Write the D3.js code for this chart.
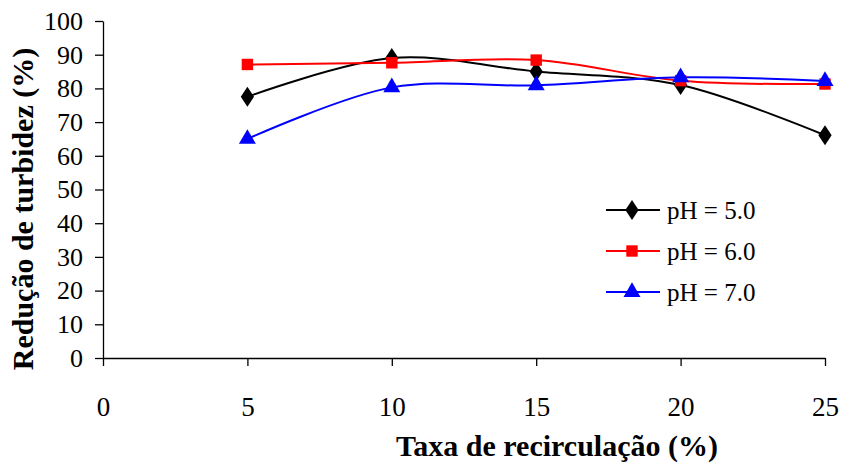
<!DOCTYPE html>
<html>
  <head>
    <meta charset="utf-8">
    <title>Redução de turbidez</title>
    <script src="https://d3js.org/d3.v7.min.js"></script>
    <style>
      body { margin: 0; background: #fff; }
      .domain, .tick line { stroke: #000; stroke-width: 1.3px; }
    </style>
  </head>
  <body>
    <svg id="chart" width="841" height="472"></svg>
    <script>
      // data
      taxa = [5, 10, 15, 20, 25];
      ph5 = [77.5, 89.0, 85.0, 81.0, 66.1];
      ph6 = [87.1, 87.6, 88.4, 82.3, 81.3];
      ph7 = [65.0, 80.3, 80.9, 83.3, 82.2];
      xTicks = [0, 5, 10, 15, 20, 25];
      yTicks = [0, 10, 20, 30, 40, 50, 60, 70, 80, 90, 100];

      font = "Liberation Serif";
      series = [
        { name: "pH = 5.0", values: ph5, colour: "#000000", symbol: d3.symbolDiamond, size: 115 },
        { name: "pH = 6.0", values: ph6, colour: "#ff0000", symbol: d3.symbolSquare, size: 130 },
        { name: "pH = 7.0", values: ph7, colour: "#0000ff", symbol: d3.symbolTriangle, size: 125 }
      ];

      svg = d3.select("#chart");
      margin = { top: 21, right: 16, bottom: 114, left: 103 };
      width = 841 - margin.left - margin.right;
      height = 472 - margin.top - margin.bottom;

      x = d3.scaleLinear().domain([0, 25]).range([margin.left, margin.left + width]);
      y = d3.scaleLinear().domain([0, 100]).range([margin.top + height, margin.top]);

      // axes
      svg.append("g")
        .attr("transform", "translate(0," + y(0) + ")")
        .call(d3.axisBottom(x).tickValues(xTicks).tickSize(8).tickSizeOuter(0).tickPadding(31))
        .attr("font-family", font)
        .attr("font-size", 27)
        .selectAll(".tick text").attr("fill", "#000");
      svg.append("g")
        .attr("transform", "translate(" + x(0) + ",0)")
        .call(d3.axisLeft(y).tickValues(yTicks).tickSize(8).tickSizeOuter(0).tickPadding(12))
        .attr("font-family", font)
        .attr("font-size", 26)
        .selectAll(".tick text").attr("fill", "#000");

      // lines and markers
      line = d3.line()
        .x(function(d, i) { return x(taxa[i]); })
        .y(function(d) { return y(d); })
        .curve(d3.curveCatmullRom.alpha(0.5));

      series.forEach(function(s) {
        svg.append("path")
          .datum(s.values)
          .attr("d", line)
          .attr("fill", "none")
          .attr("stroke", s.colour)
          .attr("stroke-width", 2);
      });
      series.forEach(function(s) {
        svg.selectAll(null)
          .data(s.values)
          .enter().append("path")
            .attr("d", d3.symbol().type(s.symbol).size(s.size))
            .attr("transform", function(d, i) {
              return "translate(" + x(taxa[i]) + "," + y(d) + ")" + (s.symbol === d3.symbolDiamond ? " scale(1.15,1)" : "");
            })
            .attr("fill", s.colour);
      });

      // legend
      legend = svg.append("g")
        .attr("font-family", font)
        .attr("font-size", 25);
      rows = legend.selectAll("g")
        .data(series)
        .enter().append("g")
          .attr("transform", function(d, i) { return "translate(606," + (210 + i * 41) + ")"; });
      rows.append("line")
        .attr("x1", 0).attr("x2", 54)
        .attr("stroke", function(d) { return d.colour; })
        .attr("stroke-width", 2);
      rows.append("path")
        .attr("d", function(d) { return d3.symbol().type(d.symbol).size(d.size)(); })
        .attr("transform", function(d) { return "translate(26,0)" + (d.symbol === d3.symbolDiamond ? " scale(1.15,1)" : ""); })
        .attr("fill", function(d) { return d.colour; });
      rows.append("text")
        .attr("x", 61)
        .attr("dy", "0.35em")
        .text(function(d) { return d.name; });

      // titles
      svg.append("text")
        .attr("font-family", font)
        .attr("font-size", 30)
        .attr("font-weight", "bold")
        .attr("x", 557)
        .attr("y", 456)
        .attr("text-anchor", "middle")
        .text("Taxa de recirculação (%)");
      svg.append("text")
        .attr("font-family", font)
        .attr("font-size", 30)
        .attr("font-weight", "bold")
        .attr("transform", "translate(33,209) rotate(-90)")
        .attr("text-anchor", "middle")
        .text("Redução de turbidez (%)");
    </script>
  </body>
</html>
